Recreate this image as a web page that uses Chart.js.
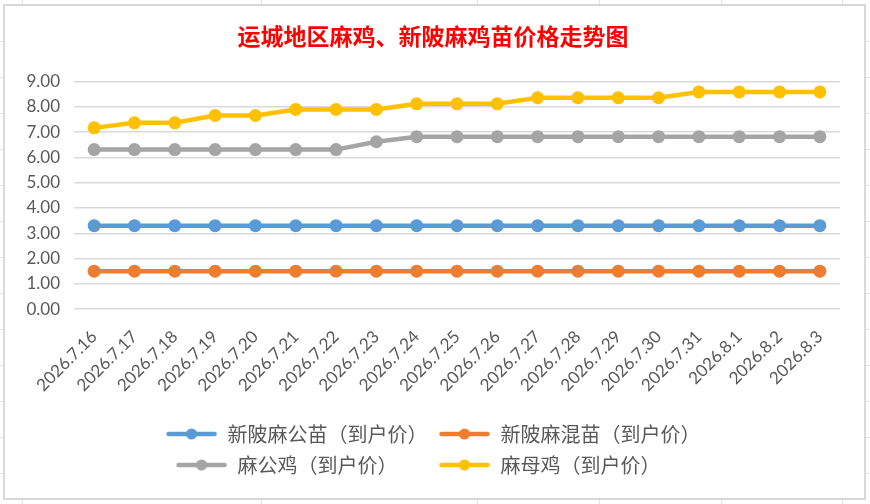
<!DOCTYPE html>
<html>
<head>
<meta charset="utf-8">
<script src="https://cdn.jsdelivr.net/npm/chart.js@4"></script>
<style>
  html, body { margin: 0; padding: 0; background: #fff; }
  body { width: 870px; height: 504px; position: relative; overflow: hidden; }
  .hl { position: absolute; left: 0; width: 870px; height: 1px; background: #e3e3e3; }
  .vl { position: absolute; top: 0; height: 504px; width: 1px; background: #e3e3e3; }
  #box {
    position: absolute; left: 3px; top: 4px; width: 863px; height: 496px;
    box-sizing: border-box; border: 2px solid #d9d9d9; background: #fff;
  }
  #myChart { display: block; }
</style>
</head>
<body>
<!-- sheet grid behind the chart box -->
<div class="hl" style="top:41px"></div><div class="hl" style="top:77px"></div>
<div class="hl" style="top:113px"></div><div class="hl" style="top:149px"></div>
<div class="hl" style="top:185px"></div><div class="hl" style="top:221px"></div>
<div class="hl" style="top:257px"></div><div class="hl" style="top:293px"></div>
<div class="hl" style="top:329px"></div><div class="hl" style="top:365px"></div>
<div class="hl" style="top:401px"></div><div class="hl" style="top:437px"></div>
<div class="hl" style="top:473px"></div>
<div class="vl" style="left:22px"></div><div class="vl" style="left:261px"></div>
<div class="vl" style="left:477px"></div><div class="vl" style="left:599px"></div>
<div class="vl" style="left:721px"></div><div class="vl" style="left:842px"></div>

<div id="box"><canvas id="myChart" width="859" height="492"></canvas></div>

<script>
let chartTitle = '运城地区麻鸡、新陂麻鸡苗价格走势图';
let dates = ['2026.7.16', '2026.7.17', '2026.7.18', '2026.7.19', '2026.7.20', '2026.7.21',
    '2026.7.22', '2026.7.23', '2026.7.24', '2026.7.25', '2026.7.26', '2026.7.27', '2026.7.28',
    '2026.7.29', '2026.7.30', '2026.7.31', '2026.8.1', '2026.8.2', '2026.8.3'];
let seriesNames = ['新陂麻公苗（到户价）', '新陂麻混苗（到户价）', '麻公鸡（到户价）', '麻母鸡（到户价）'];
let maleChickPrice = [3.3, 3.3, 3.3, 3.3, 3.3, 3.3, 3.3, 3.3, 3.3, 3.3, 3.3, 3.3, 3.3, 3.3, 3.3, 3.3, 3.3, 3.3, 3.3];
let mixedChickPrice = [1.5, 1.5, 1.5, 1.5, 1.5, 1.5, 1.5, 1.5, 1.5, 1.5, 1.5, 1.5, 1.5, 1.5, 1.5, 1.5, 1.5, 1.5, 1.5];
let roosterPrice = [6.31, 6.31, 6.31, 6.31, 6.31, 6.31, 6.31, 6.62, 6.82, 6.82, 6.82, 6.82, 6.82, 6.82, 6.82, 6.82, 6.82, 6.82, 6.82];
let henPrice = [7.17, 7.37, 7.37, 7.66, 7.66, 7.9, 7.9, 7.9, 8.12, 8.12, 8.12, 8.36, 8.36, 8.36, 8.36, 8.59, 8.59, 8.59, 8.59];
let yTicks = [0, 1, 2, 3, 4, 5, 6, 7, 8, 9];

let colors = ['#5B9BD5', '#ED7D31', '#A5A5A5', '#FFC000'];
let textColor = '#595959';

// legend marker: short line with a dot, like the spreadsheet legend
function makeMarker(color) {
    let c = document.createElement('canvas');
    c.width = 52;
    c.height = 14;
    let g = c.getContext('2d');
    g.strokeStyle = color;
    g.lineWidth = 4.5;
    g.lineCap = 'round';
    g.beginPath();
    g.moveTo(3, 7);
    g.lineTo(49, 7);
    g.stroke();
    g.fillStyle = color;
    g.beginPath();
    g.arc(26, 7, 5.5, 0, Math.PI * 2);
    g.fill();
    return c;
}
let markers = colors.map(makeMarker);

function makeSet(i, values) {
    return {
        label: seriesNames[i],
        data: values,
        borderColor: colors[i],
        backgroundColor: colors[i],
        borderWidth: 4.5,
        pointRadius: 6.5,
        pointHoverRadius: 6.5,
        pointBorderWidth: 0,
        tension: 0,
        order: 4 - i
    };
}

let ctx = document.querySelector('#myChart').getContext('2d');
let myChart = new Chart(ctx, {
    type: 'line',
    data: {
        labels: dates,
        datasets: [
            makeSet(0, maleChickPrice),
            makeSet(1, mixedChickPrice),
            makeSet(2, roosterPrice),
            makeSet(3, henPrice)
        ]
    },
    options: {
        responsive: false,
        animation: false,
        layout: { padding: { left: 21, right: 24, top: 0, bottom: 13 } },
        scales: {
            x: {
                offset: true,
                grid: { display: false, drawTicks: false },
                border: { display: false },
                ticks: {
                    autoSkip: false,
                    minRotation: 45,
                    maxRotation: 45,
                    padding: 17.5,
                    color: textColor,
                    font: { family: 'Lato', size: 17 }
                }
            },
            y: {
                min: 0,
                max: 9,
                afterBuildTicks: (axis) => { axis.ticks = yTicks.map(v => ({ value: v })); },
                afterFit: (axis) => { axis.width = 48; },
                grid: { color: '#d9d9d9', lineWidth: 1.5, drawTicks: false },
                border: { display: false },
                ticks: {
                    autoSkip: false,
                    padding: 14,
                    color: textColor,
                    font: { family: 'Lato', size: 17 },
                    callback: (v) => Number(v).toFixed(2)
                }
            }
        },
        plugins: {
            title: {
                display: true,
                text: chartTitle,
                color: '#FF0000',
                font: { family: "'Noto Sans CJK SC'", size: 23, weight: 'bold' },
                padding: { top: 16, bottom: 32 }
            },
            legend: {
                position: 'bottom',
                labels: {
                    usePointStyle: true,
                    pointStyleWidth: 52,
                    padding: 11,
                    color: textColor,
                    font: { family: "'Noto Sans CJK SC'", size: 20 },
                    generateLabels: (chart) => {
                        let items = Chart.defaults.plugins.legend.labels.generateLabels(chart);
                        let longest = Math.max(...seriesNames.map(s => s.length));
                        return items.map((item, i) => {
                            // pad with ideographic spaces so the two rows line up in columns
                            item.text = seriesNames[i] + '\u3000'.repeat(longest - seriesNames[i].length);
                            item.pointStyle = markers[i];
                            return item;
                        });
                    }
                }
            },
            tooltip: { enabled: false }
        }
    }
});
</script>
</body>
</html>
